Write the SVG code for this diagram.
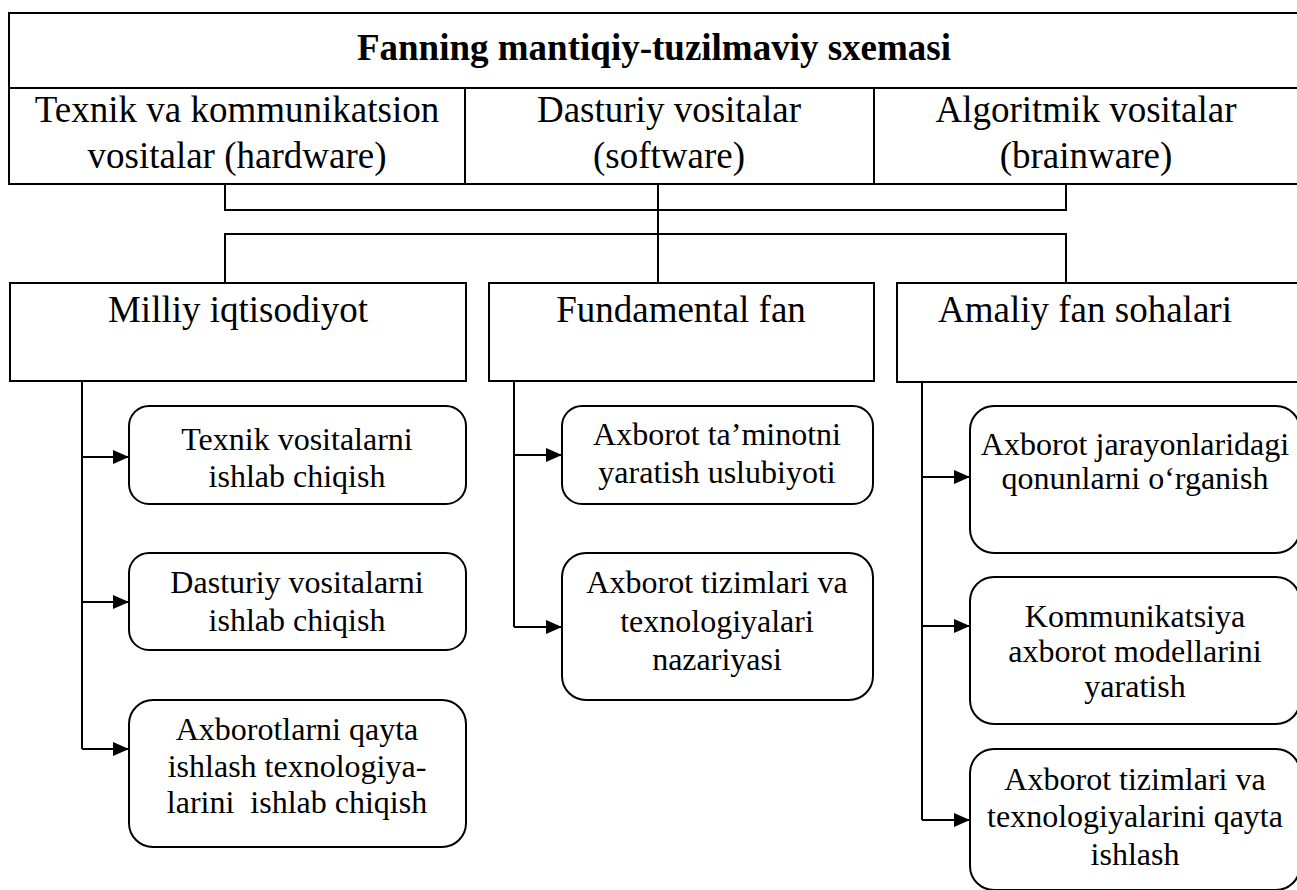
<svg xmlns="http://www.w3.org/2000/svg" width="1297" height="890" viewBox="0 0 1297 890" font-family="'Liberation Serif', 'DejaVu Serif', serif">
  <style>
    .frame { fill: none; stroke: #000; stroke-width: 2; }
    .box { fill: #fff; stroke: #000; stroke-width: 2; }
    .link { fill: none; stroke: #000; stroke-width: 2; }
    text { font-family: 'Liberation Serif', 'DejaVu Serif', serif; fill: #000; text-anchor: middle; }
    .title { font-size: 37px; font-weight: bold; }
    .head { font-size: 37px; }
    .sub { font-size: 32px; white-space: pre; }
  </style>
  <defs>
    <marker id="arrow" viewBox="0 0 16 14" refX="16" refY="7" markerWidth="16" markerHeight="14" markerUnits="userSpaceOnUse" orient="auto">
      <path d="M0,0 L16,7 L0,14 Z" fill="#000"/>
    </marker>
  </defs>

  <rect width="1297" height="890" fill="#fff"/>

  <!-- header table -->
  <g id="header">
    <path class="frame" d="M1299,13 H9 V184 H1299 M9,88 H1299 M465,88 V184 M874,88 V184"/>
    <text class="title" x="654" y="60">Fanning mantiqiy-tuzilmaviy sxemasi</text>
  </g>
  <g id="hardware">
    <text class="head" x="237" y="122">Texnik va kommunikatsion</text>
    <text class="head" x="237" y="168">vositalar (hardware)</text>
  </g>
  <g id="software">
    <text class="head" x="669" y="122">Dasturiy vositalar</text>
    <text class="head" x="669" y="168">(software)</text>
  </g>
  <g id="brainware">
    <text class="head" x="1086" y="122">Algoritmik vositalar</text>
    <text class="head" x="1086" y="168">(brainware)</text>
  </g>

  <!-- connectors -->
  <g id="connectors">
    <path class="link" d="M225,184 V210 H1066 V184 M658,184 V283 M225,283 V234 H1066 V283"/>
    <path class="link" d="M82,381 V749"/>
    <path class="link" marker-end="url(#arrow)" d="M82,457 H129"/>
    <path class="link" marker-end="url(#arrow)" d="M82,602 H129"/>
    <path class="link" marker-end="url(#arrow)" d="M82,749 H129"/>
    <path class="link" d="M514,381 V627"/>
    <path class="link" marker-end="url(#arrow)" d="M514,455 H562"/>
    <path class="link" marker-end="url(#arrow)" d="M514,627 H562"/>
    <path class="link" d="M922,382 V820"/>
    <path class="link" marker-end="url(#arrow)" d="M922,477 H970"/>
    <path class="link" marker-end="url(#arrow)" d="M922,626 H970"/>
    <path class="link" marker-end="url(#arrow)" d="M922,820 H970"/>
  </g>

  <!-- second level -->
  <g id="milliy">
    <rect class="box" x="10" y="283" width="456" height="98"/>
    <text class="head" x="238" y="322">Milliy iqtisodiyot</text>
  </g>
  <g id="fundamental">
    <rect class="box" x="489" y="283" width="385" height="98"/>
    <text class="head" x="681" y="322">Fundamental fan</text>
  </g>
  <g id="amaliy">
    <rect class="box" x="897" y="283" width="402" height="99"/>
    <text class="head" x="1085" y="322">Amaliy fan sohalari</text>
  </g>

  <!-- branches of Milliy iqtisodiyot -->
  <g id="texnik-ishlab">
    <rect class="box" x="129" y="406" width="337" height="98" rx="20"/>
    <text class="sub" x="297" y="450">Texnik vositalarni</text>
    <text class="sub" x="297" y="487">ishlab chiqish</text>
  </g>
  <g id="dasturiy-ishlab">
    <rect class="box" x="129" y="553" width="337" height="97" rx="20"/>
    <text class="sub" x="297" y="593">Dasturiy vositalarni</text>
    <text class="sub" x="297" y="631">ishlab chiqish</text>
  </g>
  <g id="qayta-ishlash">
    <rect class="box" x="129" y="700" width="337" height="147" rx="24"/>
    <text class="sub" x="297" y="740">Axborotlarni qayta</text>
    <text class="sub" x="297" y="777">ishlash texnologiya-</text>
    <text class="sub" x="297" y="813">larini  ishlab chiqish</text>
  </g>

  <!-- branches of Fundamental fan -->
  <g id="taminot">
    <rect class="box" x="562" y="406" width="311" height="98" rx="20"/>
    <text class="sub" x="717" y="445">Axborot ta’minotni</text>
    <text class="sub" x="717" y="483">yaratish uslubiyoti</text>
  </g>
  <g id="nazariya">
    <rect class="box" x="562" y="553" width="311" height="147" rx="24"/>
    <text class="sub" x="717" y="593">Axborot tizimlari va</text>
    <text class="sub" x="717" y="632">texnologiyalari</text>
    <text class="sub" x="717" y="670">nazariyasi</text>
  </g>

  <!-- branches of Amaliy fan sohalari -->
  <g id="qonunlar">
    <rect class="box" x="970" y="406" width="330" height="147" rx="24"/>
    <text class="sub" x="1135" y="455">Axborot jarayonlaridagi</text>
    <text class="sub" x="1135" y="489">qonunlarni o‘rganish</text>
  </g>
  <g id="modellar">
    <rect class="box" x="970" y="577" width="330" height="147" rx="24"/>
    <text class="sub" x="1135" y="627">Kommunikatsiya</text>
    <text class="sub" x="1135" y="662">axborot modellarini</text>
    <text class="sub" x="1135" y="697">yaratish</text>
  </g>
  <g id="tizimlar">
    <rect class="box" x="970" y="749" width="330" height="141" rx="24"/>
    <text class="sub" x="1135" y="790">Axborot tizimlari va</text>
    <text class="sub" x="1135" y="827">texnologiyalarini qayta</text>
    <text class="sub" x="1135" y="865">ishlash</text>
  </g>
</svg>
